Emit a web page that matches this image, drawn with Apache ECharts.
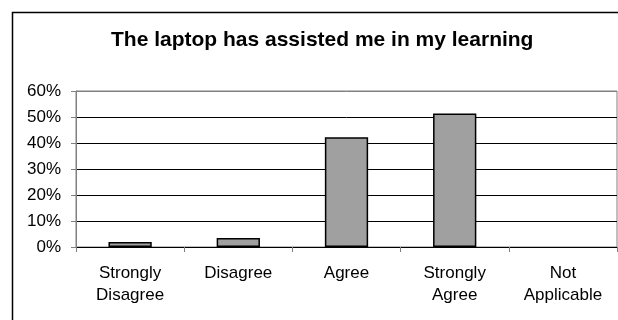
<!DOCTYPE html>
<html>
<head>
<meta charset="utf-8">
<script src="https://cdn.jsdelivr.net/npm/echarts@6/dist/echarts.min.js"></script>
<style>html,body{margin:0;padding:0;background:#fff}#c{width:618px;height:320px}</style>
</head>
<body>
<div id="c"></div>
<script>
const titleText = 'The laptop has assisted me in my learning';
const categories = ['Strongly\nDisagree', 'Disagree', 'Agree', 'Strongly\nAgree', 'Not\nApplicable'];
const values = [1.9, 3.5, 42.2, 51.3, 0];
const yMin = 0, yMax = 60, yStep = 10;

const chart = echarts.init(document.getElementById('c'), null, {renderer: 'canvas'});
const font = 'Liberation Sans, Arial, sans-serif';
chart.setOption({
  animation: false,
  backgroundColor: '#fff',
  title: {
    text: titleText, left: 106, top: 25,
    textStyle: {fontFamily: font, fontSize: 21, fontWeight: 'bold', color: '#000'}
  },
  graphic: [{
    type: 'rect', shape: {x: 12.5, y: 12.5, width: 700, height: 400},
    style: {fill: 'none', stroke: '#000', lineWidth: 1.5}, z: 100, silent: true
  }],
  grid: {left: 76, top: 91, width: 541, height: 156, show: true, borderColor: '#808080', borderWidth: 1, backgroundColor: 'transparent'},
  xAxis: {
    type: 'category', data: categories, boundaryGap: true,
    axisLine: {lineStyle: {color: '#000', width: 1}},
    axisTick: {show: true, length: 5, alignWithLabel: false, lineStyle: {color: '#808080'}},
    axisLabel: {fontFamily: font, fontSize: 17, color: '#000', margin: 15, lineHeight: 22, interval: 0}
  },
  yAxis: {
    type: 'value', min: yMin, max: yMax, interval: yStep,
    axisLine: {show: true, lineStyle: {color: '#808080', width: 1}},
    axisTick: {show: true, length: 5, lineStyle: {color: '#808080'}},
    axisLabel: {fontFamily: font, fontSize: 17, color: '#000', margin: 15, formatter: '{value}%'},
    splitLine: {show: true, lineStyle: {color: ['#000','#000','#000','#000','#000','#000','#808080'], width: 1}}
  },
  series: [{
    type: 'bar', barCategoryGap: '60%',
    data: values.map(v => v === 0 ? {value: v, itemStyle: {borderWidth: 0, opacity: 0}} : v),
    itemStyle: {color: '#a0a0a0', borderColor: '#000', borderWidth: 1.5}
  }]
});
</script>
</body>
</html>
